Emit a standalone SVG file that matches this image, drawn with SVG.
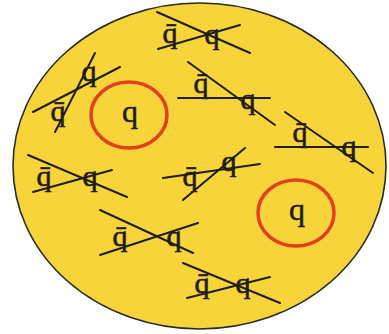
<svg xmlns="http://www.w3.org/2000/svg" width="389" height="334" viewBox="0 0 389 334">
<style>
.bg{fill:#fff}
.blob{fill:#F6D43A;stroke:#2a2a20;stroke-width:1.6}
.ring{fill:none;stroke:#E2401E;stroke-width:3.5}
.ln{stroke:#1e1e14;stroke-width:2;stroke-linecap:round}
.q{font-family:"Liberation Serif","Times New Roman",serif;font-size:30px;fill:#1e1e14;stroke:#1e1e14;stroke-width:0.6;text-anchor:middle}
.qb{font-family:"Liberation Serif","Times New Roman",serif;font-size:32px;fill:#1e1e14;stroke:#1e1e14;stroke-width:0.5;text-anchor:middle}
</style>
<rect class="bg" x="0" y="0" width="389" height="334"/>
<ellipse id="bag" class="blob" cx="199.5" cy="166" rx="186.5" ry="163"/>
<g id="free-q1"><ellipse class="ring" cx="129" cy="115" rx="38" ry="33"/><text class="qb" x="130" y="122">q</text></g>
<g id="free-q2"><ellipse class="ring" cx="296" cy="213" rx="38" ry="33"/><text class="qb" x="297" y="220">q</text></g>
<g id="pair1"><text class="q" x="170" y="43">q̄</text><text class="q" x="212" y="44">q</text><line class="ln" x1="157" y1="12" x2="250" y2="53"/><line class="ln" x1="158" y1="49" x2="240" y2="25"/></g>
<g id="pair2"><text class="q" x="89" y="81">q</text><text class="q" x="58" y="121">q̄</text><line class="ln" x1="33" y1="112" x2="120" y2="67"/><line class="ln" x1="95" y1="53" x2="55" y2="132"/></g>
<g id="pair3"><text class="q" x="201" y="93">q̄</text><text class="q" x="248" y="109">q</text><line class="ln" x1="178" y1="98" x2="270" y2="98"/><line class="ln" x1="188" y1="62" x2="275" y2="125"/></g>
<g id="pair4"><text class="q" x="300" y="142">q̄</text><text class="q" x="349" y="156">q</text><line class="ln" x1="275" y1="147" x2="368" y2="147"/><line class="ln" x1="285" y1="112" x2="373" y2="173"/></g>
<g id="pair5"><text class="q" x="44" y="186">q̄</text><text class="q" x="90" y="186">q</text><line class="ln" x1="28" y1="155" x2="127" y2="197"/><line class="ln" x1="33" y1="192" x2="112" y2="170"/></g>
<g id="pair6"><text class="q" x="190" y="186">q̄</text><text class="q" x="229" y="171">q</text><line class="ln" x1="163" y1="178" x2="260" y2="164"/><line class="ln" x1="183" y1="200" x2="245" y2="148"/></g>
<g id="pair7"><text class="q" x="120" y="246">q̄</text><text class="q" x="174" y="246">q</text><line class="ln" x1="100" y1="210" x2="193" y2="253"/><line class="ln" x1="100" y1="255" x2="198" y2="223"/></g>
<g id="pair8"><text class="q" x="202" y="293">q̄</text><text class="q" x="243" y="293">q</text><line class="ln" x1="183" y1="263" x2="280" y2="303"/><line class="ln" x1="187" y1="298" x2="270" y2="277"/></g>
<g id="connectors"></g>
</svg>
